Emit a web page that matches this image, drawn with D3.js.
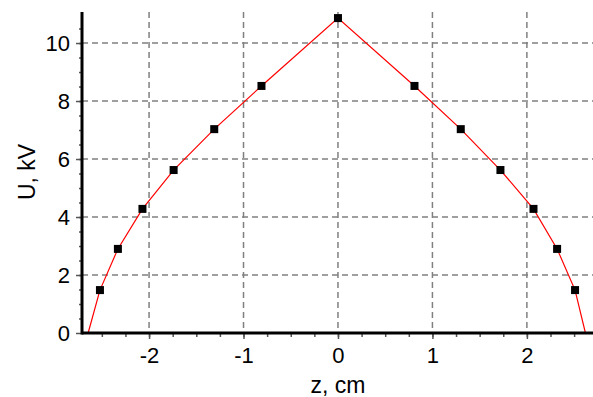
<!DOCTYPE html>
<html>
<head>
<meta charset="utf-8">
<script src="https://cdn.jsdelivr.net/npm/d3@7"></script>
<style>
  html, body { margin: 0; padding: 0; background: #fff; }
  svg { display: block; }
  text { font-family: Arial, "Liberation Sans", sans-serif; fill: #000; }
</style>
</head>
<body>
<svg id="chart" width="593" height="397"></svg>
<script>
// measured points (black squares)
const zPoints = [-2.52, -2.33, -2.07, -1.74, -1.31, -0.81, 0, 0.81, 1.30, 1.72, 2.07, 2.32, 2.51];
const uPoints = [1.48, 2.90, 4.28, 5.62, 7.03, 8.52, 10.86, 8.52, 7.03, 5.62, 4.28, 2.90, 1.48];

// calculated curve (red line)
const zCurve = [-2.645, -2.52, -2.33, -2.07, -1.74, -1.31, -0.81, 0, 0.81, 1.30, 1.72, 2.07, 2.32, 2.51, 2.62];
const uCurve = [0, 1.48, 2.90, 4.28, 5.62, 7.03, 8.52, 10.86, 8.52, 7.03, 5.62, 4.28, 2.90, 1.48, 0];

const xTicks = [-2, -1, 0, 1, 2];
const yTicks = [0, 2, 4, 6, 8, 10];
const xLabel = 'z, cm';
const yLabel = 'U, kV';

const M = { left: 82, right: 593, top: 12, bottom: 333 };

const x = d3.scaleLinear().domain([-2.71, 2.70]).range([M.left, M.right]);
const y = d3.scaleLinear().domain([0, 11.07]).range([M.bottom, M.top]);

const svg = d3.select('#chart');

// grid
const grid = svg.append('g')
  .attr('stroke', '#808080')
  .attr('stroke-width', 1.5)
  .attr('stroke-dasharray', '6,4');

grid.selectAll('line.v').data(xTicks).join('line')
  .attr('class', 'v')
  .attr('x1', d => x(d)).attr('x2', d => x(d))
  .attr('y1', M.top).attr('y2', M.bottom);

grid.selectAll('line.h').data(yTicks.filter(d => d > 0)).join('line')
  .attr('class', 'h')
  .attr('x1', M.left).attr('x2', M.right)
  .attr('y1', d => y(d)).attr('y2', d => y(d));

// curve
const line = d3.line()
  .x((d, i) => x(zCurve[i]))
  .y(d => y(d));

svg.append('path')
  .datum(uCurve)
  .attr('fill', 'none')
  .attr('stroke', '#ff0000')
  .attr('stroke-width', 1.2)
  .attr('d', line);

// points
const S = 8;
svg.append('g').selectAll('rect').data(uPoints).join('rect')
  .attr('x', (d, i) => x(zPoints[i]) - S / 2)
  .attr('y', d => y(d) - S / 2)
  .attr('width', S).attr('height', S)
  .attr('fill', '#000');

// axes
const xMinor = d3.range(-2.5, 2.75, 0.25);
const yMinor = d3.range(0.5, 11, 0.5);

const xAxis = svg.append('g').attr('transform', `translate(0,${M.bottom})`);
xAxis.call(d3.axisBottom(x).tickValues(xMinor).tickSize(4).tickFormat(''));
xAxis.append('g').call(d3.axisBottom(x).tickValues(xTicks).tickSize(6).tickPadding(8)
  .tickFormat(d => d < 0 ? '-' + Math.abs(d) : d));
xAxis.selectAll('.domain').remove();
xAxis.selectAll('line').attr('stroke', '#555').attr('stroke-width', 1.5);
xAxis.selectAll('text').attr('font-size', 22);

const yAxis = svg.append('g').attr('transform', `translate(${M.left},0)`);
yAxis.call(d3.axisLeft(y).tickValues(yMinor).tickSize(3).tickFormat(''));
yAxis.append('g').call(d3.axisLeft(y).tickValues(yTicks).tickSizeInner(6).tickSizeOuter(0).tickPadding(6));
yAxis.selectAll('.domain').remove();
yAxis.selectAll('line').attr('stroke', '#555').attr('stroke-width', 1.5);
yAxis.selectAll('text').attr('font-size', 22);

// axis lines
svg.append('line')
  .attr('x1', M.left).attr('x2', M.right)
  .attr('y1', M.bottom).attr('y2', M.bottom)
  .attr('stroke', '#000').attr('stroke-width', 3);
svg.append('line')
  .attr('x1', M.left).attr('x2', M.left)
  .attr('y1', M.top).attr('y2', M.bottom + 1.5)
  .attr('stroke', '#000').attr('stroke-width', 3);

// titles
svg.append('text')
  .attr('x', x(0)).attr('y', 393)
  .attr('text-anchor', 'middle')
  .attr('font-size', 23)
  .text(xLabel);

svg.append('text')
  .attr('transform', `translate(35,172) rotate(-90)`)
  .attr('text-anchor', 'middle')
  .attr('font-size', 23)
  .text(yLabel);
</script>
</body>
</html>
